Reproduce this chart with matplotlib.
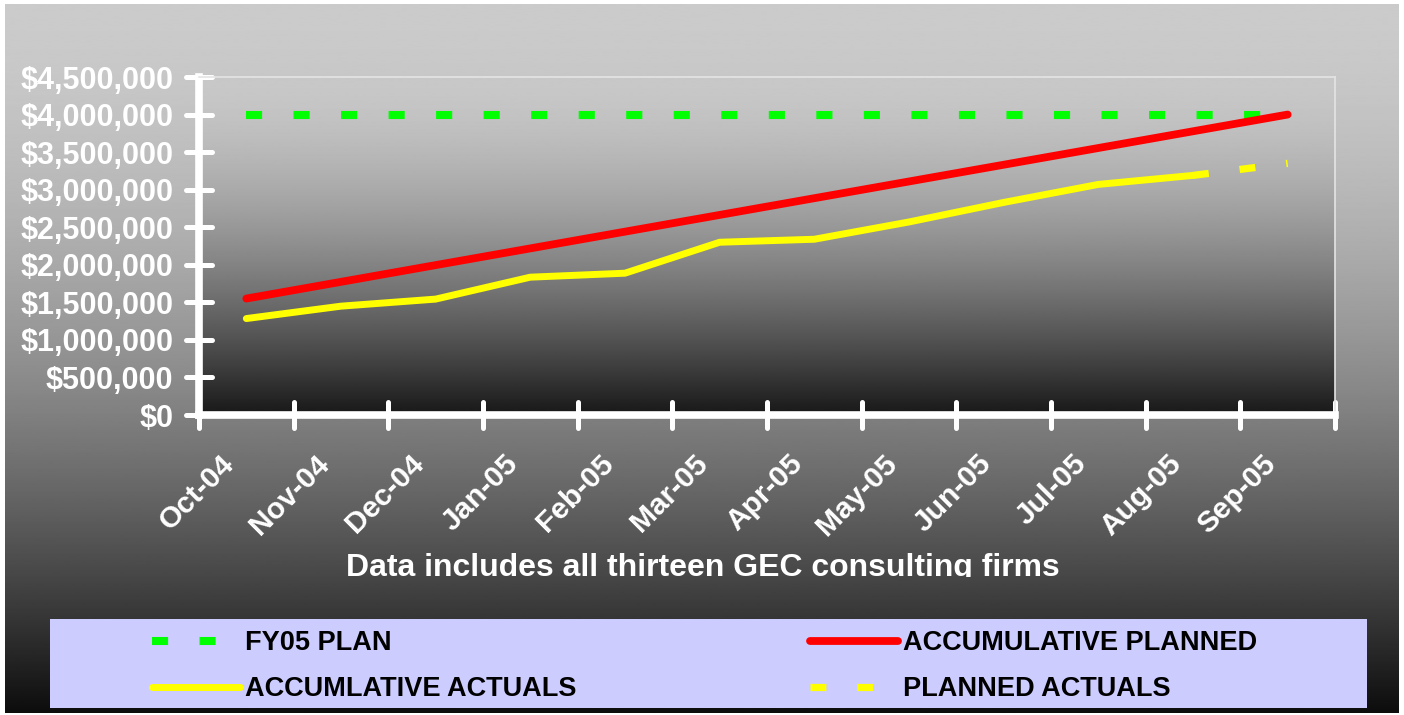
import numpy as np
import matplotlib
matplotlib.use('Agg')
from matplotlib import pyplot as plt
from matplotlib.markers import MarkerStyle
from matplotlib.transforms import ScaledTranslation, Bbox, TransformedBbox
from matplotlib.ticker import FixedLocator, FuncFormatter, NullFormatter
from matplotlib.patches import Rectangle

plt.rcParams['font.family'] = ['Liberation Sans', 'DejaVu Sans']
plt.rcParams['font.weight'] = 'bold'

months = ['Oct-04', 'Nov-04', 'Dec-04', 'Jan-05', 'Feb-05', 'Mar-05',
          'Apr-05', 'May-05', 'Jun-05', 'Jul-05', 'Aug-05', 'Sep-05']
fy05_plan = [4000000] * 12
accum_planned = [1550000, 1772700, 1995500, 2218200, 2440900, 2663600,
                 2886400, 3109100, 3331800, 3554500, 3777300, 4000000]
accum_actuals = [1284000, 1449000, 1543000, 1835000, 1888000, 2300000,
                 2340000, 2570000, 2830000, 3070000, 3190000]
planned_actuals_x = ['Aug-05', 'Sep-05']
planned_actuals = [3190000, 3350000]

W, H = 1404, 715
fig = plt.figure(figsize=(W / 100, H / 100), dpi=100)
fig.patch.set_facecolor('white')

def px(x0, y0, x1, y1):
    # pixel box (top-left origin) -> figure fraction rect
    return [x0 / W, 1 - y1 / H, (x1 - x0) / W, (y1 - y0) / H]

# figure background gradient
bg = fig.add_axes(px(5, 4, 1399, 713), zorder=0)
t = np.linspace(0, 1, 400)[:, None]
bg.imshow(203 - 190 * t ** 1.7, cmap='gray', vmin=0, vmax=255, aspect='auto',
          extent=(0, 1, 0, 1), interpolation='bilinear')
bg.set_axis_off()

# plot area gradient
pos = px(199, 77, 1335, 415)
pbg = fig.add_axes(pos, zorder=1)
pbg.imshow(200 - 176 * t ** 1.6, cmap='gray', vmin=0, vmax=255, aspect='auto',
           extent=(0, 1, 0, 1), interpolation='bilinear')
pbg.set_axis_off()

ax = fig.add_axes(pos, zorder=2)
ax.set_facecolor('none')

xi = np.arange(len(months))
dash = (0, (2.0, 3.9))
l_plan, = ax.plot(xi, fy05_plan, color='#00FF00', lw=5.8, linestyle=dash,
                  dash_capstyle='butt', label='FY05 PLAN')
l_accp, = ax.plot(xi, accum_planned, color='#FF0000', lw=5.6,
                  solid_capstyle='round', solid_joinstyle='round',
                  label='ACCUMULATIVE PLANNED')
l_acca, = ax.plot(xi[:len(accum_actuals)], accum_actuals, color='#FFFF00', lw=5.0,
                  solid_capstyle='round', solid_joinstyle='round',
                  label='ACCUMLATIVE ACTUALS')
pa_x = [months.index(m) for m in planned_actuals_x]
l_pa, = ax.plot(pa_x, planned_actuals, color='#FFFF00', lw=5.2, linestyle=(0, (2.2, 4.3)),
                dash_capstyle='butt', label='PLANNED ACTUALS')

ax.set_xlim(-0.5, len(months) - 0.5)
ax.set_ylim(0, 4500000)

for s in ['left', 'bottom']:
    ax.spines[s].set_color('white')
    ax.spines[s].set_linewidth(5.5)
for s in ['top', 'right']:
    ax.spines[s].set_color('#E4E4E4')
    ax.spines[s].set_linewidth(1.2)

ax.yaxis.set_major_locator(FixedLocator(np.arange(0, 4500001, 500000)))
ax.yaxis.set_major_formatter(FuncFormatter(lambda v, p: '${:,.0f}'.format(v)))
ax.xaxis.set_major_locator(FixedLocator(np.arange(-0.5, len(months), 1.0)))
ax.xaxis.set_major_formatter(NullFormatter())
ax.set_xticks(xi, months, minor=True)

ax.tick_params(axis='both', which='major', direction='inout', length=18.7, width=3.6,
               color='white')
ax.tick_params(axis='y', which='major', labelsize=22, labelcolor='white', pad=9.0)
ax.tick_params(axis='x', which='minor', length=0, labelsize=21.5, labelcolor='white', pad=32)

for tk in ax.yaxis.get_major_ticks():
    tk.tick1line.set_marker(MarkerStyle('_', capstyle='round'))
for tk in ax.xaxis.get_major_ticks():
    tk.tick1line.set_marker(MarkerStyle('|', capstyle='round'))

off = ScaledTranslation(-16 / 100, 0, fig.dpi_scale_trans)
for lab in ax.get_xticklabels(minor=True):
    lab.set_rotation(45)
    lab.set_ha('right')
    lab.set_va('center')
    lab.set_rotation_mode('anchor')
    lab.set_transform(lab.get_transform() + off)

# axis caption, clipped at the bottom like the original
cap = fig.text(703 / W, 1 - 576 / H, 'Data includes all thirteen GEC consulting firms',
               ha='center', va='baseline', fontsize=23, fontweight='bold', color='white')
cap.set_clip_box(TransformedBbox(Bbox([[0, 1 - 577 / H], [1, 1]]), fig.transFigure))
cap.set_clip_on(True)

# legend box
fig.patches.append(Rectangle((50 / W, 1 - 708 / H), (1367 - 50) / W, (708 - 619) / H,
                             transform=fig.transFigure, facecolor='#CCCCFF',
                             edgecolor='none', zorder=3))

leg_kw = dict(loc='upper left', frameon=False, fontsize=19.5, borderpad=0,
              borderaxespad=0, handlelength=3.25, handletextpad=0.2,
              labelspacing=0.74, labelcolor='black')
leg1 = fig.legend([l_plan, l_acca], ['FY05 PLAN', 'ACCUMLATIVE ACTUALS'],
                  bbox_to_anchor=(152 / W, 1 - 630 / H), **leg_kw)
leg2 = fig.legend([l_accp, l_pa], ['ACCUMULATIVE PLANNED', 'PLANNED ACTUALS'],
                  bbox_to_anchor=(810 / W, 1 - 630 / H), **leg_kw)
for lg in (leg1, leg2):
    lg.set_zorder(4)

fig.savefig('out.png', dpi=100, facecolor='white')
